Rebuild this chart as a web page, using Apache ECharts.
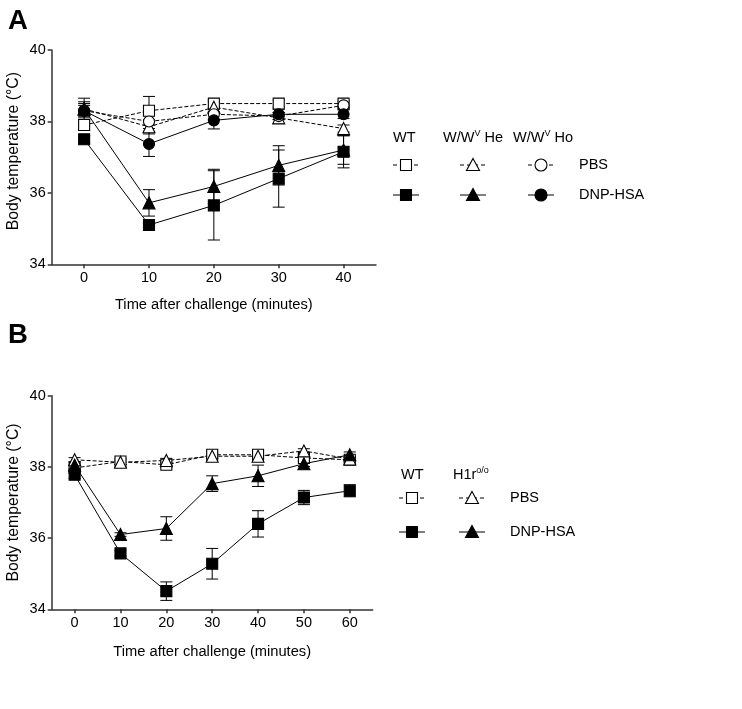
<!DOCTYPE html>
<html>
<head>
<meta charset="utf-8">
<script src="https://cdn.jsdelivr.net/npm/echarts@6/dist/echarts.min.js"></script>
<style>html,body{margin:0;padding:0;background:#fff}#c{width:742px;height:709px}</style>
</head>
<body>
<div id="c"></div>
<script>
// ---------- Panel A data ----------
const timesA = [0, 10, 20, 30, 40];
const wtPbsA = [37.9, 38.3, 38.5, 38.5, 38.5];
const wtPbsErrA = [0.15, 0.4, 0.1, 0.1, 0.1];
const hePbsA = [38.35, 37.85, 38.4, 38.1, 37.8];
const hePbsErrA = [0.2, 0.2, 0.15, 0.15, 0.1];
const hoPbsA = [38.3, 38.0, 38.2, 38.15, 38.45];
const hoPbsErrA = [0.15, 0.2, 0.15, 0.1, 0.1];
const wtDnpA = [37.5, 35.1, 35.65, 36.4, 37.15];
const wtDnpErrA = [0.1, 0.15, 0.97, 0.8, 0.45];
const heDnpA = [38.35, 35.72, 36.18, 36.77, 37.2];
const heDnpErrA = [0.3, 0.37, 0.48, 0.55, 0.4];
const hoDnpA = [38.3, 37.37, 38.03, 38.2, 38.2];
const hoDnpErrA = [0.2, 0.35, 0.24, 0.15, 0.12];

// ---------- Panel B data ----------
const timesB = [0, 10, 20, 30, 40, 50, 60];
const wtPbsB = [37.97, 38.15, 38.06, 38.34, 38.34, 38.25, 38.2];
const wtPbsErrB = [0.08, 0.08, 0.08, 0.08, 0.08, 0.08, 0.08];
const h1PbsB = [38.2, 38.13, 38.18, 38.3, 38.3, 38.45, 38.22];
const h1PbsErrB = [0.06, 0.06, 0.06, 0.06, 0.06, 0.06, 0.06];
const wtDnpB = [37.78, 35.57, 34.51, 35.28, 36.4, 37.14, 37.33];
const wtDnpErrB = [0.1, 0.08, 0.26, 0.43, 0.37, 0.2, 0.17];
const h1DnpB = [38.05, 36.1, 36.27, 37.53, 37.75, 38.09, 38.34];
const h1DnpErrB = [0.1, 0.05, 0.33, 0.22, 0.3, 0.08, 0.08];

// ---------- tick labels ----------
const xTicksA = [0, 10, 20, 30, 40];
const xTicksB = [0, 10, 20, 30, 40, 50, 60];
const yMin = 34, yMax = 40, yStep = 2;

const FONT = '"Liberation Sans", Arial, sans-serif';

function pts(t, v) { return t.map((x, i) => [x, v[i]]); }
function errPts(t, v, e) { return t.map((x, i) => [x, v[i], e[i]]); }

function errSeries(t, v, e, gi) {
  return {
    type: 'custom', xAxisIndex: gi, yAxisIndex: gi, z: 1,
    data: errPts(t, v, e), encode: { x: 0, y: 1 }, silent: true,
    renderItem: function (params, api) {
      const x = api.value(0), y = api.value(1), er = api.value(2);
      const top = api.coord([x, y + er]);
      const bot = api.coord([x, y - er]);
      const w = 6;
      const st = { stroke: '#000', lineWidth: 1 };
      return {
        type: 'group', children: [
          { type: 'line', shape: { x1: top[0], y1: top[1], x2: bot[0], y2: bot[1] }, style: st },
          { type: 'line', shape: { x1: top[0] - w, y1: top[1], x2: top[0] + w, y2: top[1] }, style: st },
          { type: 'line', shape: { x1: bot[0] - w, y1: bot[1], x2: bot[0] + w, y2: bot[1] }, style: st }
        ]
      };
    }
  };
}

function lineSeries(name, t, v, gi, symbol, size, open) {
  return {
    name: name, type: 'line', xAxisIndex: gi, yAxisIndex: gi, z: open ? 3 : 4,
    data: pts(t, v), symbol: symbol, symbolSize: size, showAllSymbol: true,
    lineStyle: { color: '#000', width: 1, type: open ? [4, 2] : 'solid' },
    itemStyle: { color: open ? '#fff' : '#000', borderColor: '#000', borderWidth: 1.1, opacity: 1 },
    emphasis: { disabled: true }, animation: false
  };
}

function xAxis(gi, max, ticks, gap) {
  return {
    type: 'value', gridIndex: gi, min: -5, max: max,
    name: 'Time after challenge (minutes)', nameLocation: 'middle', nameGap: gap,
    nameTextStyle: { fontFamily: FONT, fontSize: 14.7, color: '#000' },
    axisLine: { show: true, onZero: false, lineStyle: { color: '#333', width: 1.5 } },
    axisTick: { show: true, length: 4, customValues: ticks, lineStyle: { color: '#333', width: 1.5 } },
    axisLabel: { customValues: ticks, margin: 6, fontFamily: FONT, fontSize: 14.5, color: '#000' },
    splitLine: { show: false }
  };
}
function yAxis(gi, shift) {
  return {
    type: 'value', gridIndex: gi, min: yMin, max: yMax, interval: yStep,
    name: 'Body temperature (°C)', nameLocation: 'middle', nameGap: 30,
    nameTextStyle: { fontFamily: FONT, fontSize: 15.8, color: '#000', padding: [0, 0, 0, shift] },
    axisLine: { show: true, onZero: false, lineStyle: { color: '#333', width: 1.5 } },
    axisTick: { show: true, length: 4, lineStyle: { color: '#333', width: 1.5 } },
    axisLabel: { margin: 6, fontFamily: FONT, fontSize: 14.5, color: '#000' },
    splitLine: { show: false }
  };
}

// ---------- legend graphics ----------
function legSym(cx, cy, symbol, open, dashed) {
  const st = { stroke: '#000', lineWidth: 1.1, fill: open ? '#fff' : '#000' };
  const line = { type: 'line', shape: { x1: cx - 13, y1: cy, x2: cx + 13, y2: cy },
    style: { stroke: '#000', lineWidth: 1, lineDash: dashed ? [4, 3] : null }, z: 10 };
  let shp;
  if (symbol === 'rect') shp = { type: 'rect', shape: { x: cx - 5.5, y: cy - 5.5, width: 11, height: 11 }, style: st, z: 11 };
  else if (symbol === 'circle') shp = { type: 'circle', shape: { cx: cx, cy: cy, r: 6 }, style: st, z: 11 };
  else shp = { type: 'polygon', shape: { points: [[cx, cy - 6.5], [cx + 6.5, cy + 5.5], [cx - 6.5, cy + 5.5]] }, style: st, z: 11 };
  return [line, shp];
}
function legText(x, y, txt) {
  return { type: 'text', x: x, y: y, z: 10,
    style: { text: txt, fontFamily: FONT, fontSize: 14.5, fill: '#000', verticalAlign: 'middle', align: 'left' } };
}
function legRich(x, y, main, sup, tail) {
  return { type: 'text', x: x, y: y, z: 10,
    style: {
      text: '{a|' + main + '}{s|' + sup + '}{a|' + tail + '}',
      verticalAlign: 'middle', align: 'left',
      rich: {
        a: { fontFamily: FONT, fontSize: 14.5, fill: '#000', lineHeight: 18 },
        s: { fontFamily: FONT, fontSize: 9, fill: '#000', verticalAlign: 'top', lineHeight: 18 }
      }
    } };
}

const graphics = [
  { type: 'text', left: 8, top: 7, style: { text: 'A', fontFamily: FONT, fontSize: 27.5, fontWeight: 'bold', fill: '#000' } },
  { type: 'text', left: 8, top: 321, style: { text: 'B', fontFamily: FONT, fontSize: 27.5, fontWeight: 'bold', fill: '#000' } },
  // legend A
  legText(393, 138, 'WT'),
  legRich(443, 138, 'W/W', 'V', ' He'),
  legRich(513, 138, 'W/W', 'V', ' Ho'),
  ...legSym(406, 165, 'rect', true, true),
  ...legSym(473, 165, 'triangle', true, true),
  ...legSym(541, 165, 'circle', true, true),
  legText(579, 165, 'PBS'),
  ...legSym(406, 195, 'rect', false, false),
  ...legSym(473, 195, 'triangle', false, false),
  ...legSym(541, 195, 'circle', false, false),
  legText(579, 195, 'DNP-HSA'),
  // legend B
  legText(401, 475, 'WT'),
  legRich(453, 475, 'H1r', 'o/o', ''),
  ...legSym(412, 498, 'rect', true, true),
  ...legSym(472, 498, 'triangle', true, true),
  legText(510, 498, 'PBS'),
  ...legSym(412, 532, 'rect', false, false),
  ...legSym(472, 532, 'triangle', false, false),
  legText(510, 532, 'DNP-HSA')
];

const chart = echarts.init(document.getElementById('c'), null, { renderer: 'canvas' });
chart.setOption({
  animation: false,
  backgroundColor: '#fff',
  grid: [
    { left: 51.7, top: 50, width: 324.3, height: 214.3 },
    { left: 51.7, top: 395.7, width: 321, height: 213.6 }
  ],
  xAxis: [xAxis(0, 45, xTicksA, 33), xAxis(1, 65, xTicksB, 35)],
  yAxis: [yAxis(0, 12), yAxis(1, 0)],
  graphic: graphics,
  series: [
    errSeries(timesA, wtPbsA, wtPbsErrA, 0),
    errSeries(timesA, hePbsA, hePbsErrA, 0),
    errSeries(timesA, hoPbsA, hoPbsErrA, 0),
    errSeries(timesA, wtDnpA, wtDnpErrA, 0),
    errSeries(timesA, heDnpA, heDnpErrA, 0),
    errSeries(timesA, hoDnpA, hoDnpErrA, 0),
    lineSeries('WT PBS', timesA, wtPbsA, 0, 'rect', 11, true),
    lineSeries('He PBS', timesA, hePbsA, 0, 'triangle', 12, true),
    lineSeries('Ho PBS', timesA, hoPbsA, 0, 'circle', 11, true),
    lineSeries('WT DNP', timesA, wtDnpA, 0, 'rect', 11, false),
    lineSeries('He DNP', timesA, heDnpA, 0, 'triangle', 12, false),
    lineSeries('Ho DNP', timesA, hoDnpA, 0, 'circle', 11, false),

    errSeries(timesB, wtPbsB, wtPbsErrB, 1),
    errSeries(timesB, h1PbsB, h1PbsErrB, 1),
    errSeries(timesB, wtDnpB, wtDnpErrB, 1),
    errSeries(timesB, h1DnpB, h1DnpErrB, 1),
    lineSeries('WT PBS B', timesB, wtPbsB, 1, 'rect', 11, true),
    lineSeries('H1r PBS B', timesB, h1PbsB, 1, 'triangle', 12, true),
    lineSeries('WT DNP B', timesB, wtDnpB, 1, 'rect', 11, false),
    lineSeries('H1r DNP B', timesB, h1DnpB, 1, 'triangle', 12, false)
  ]
});
</script>
</body>
</html>
